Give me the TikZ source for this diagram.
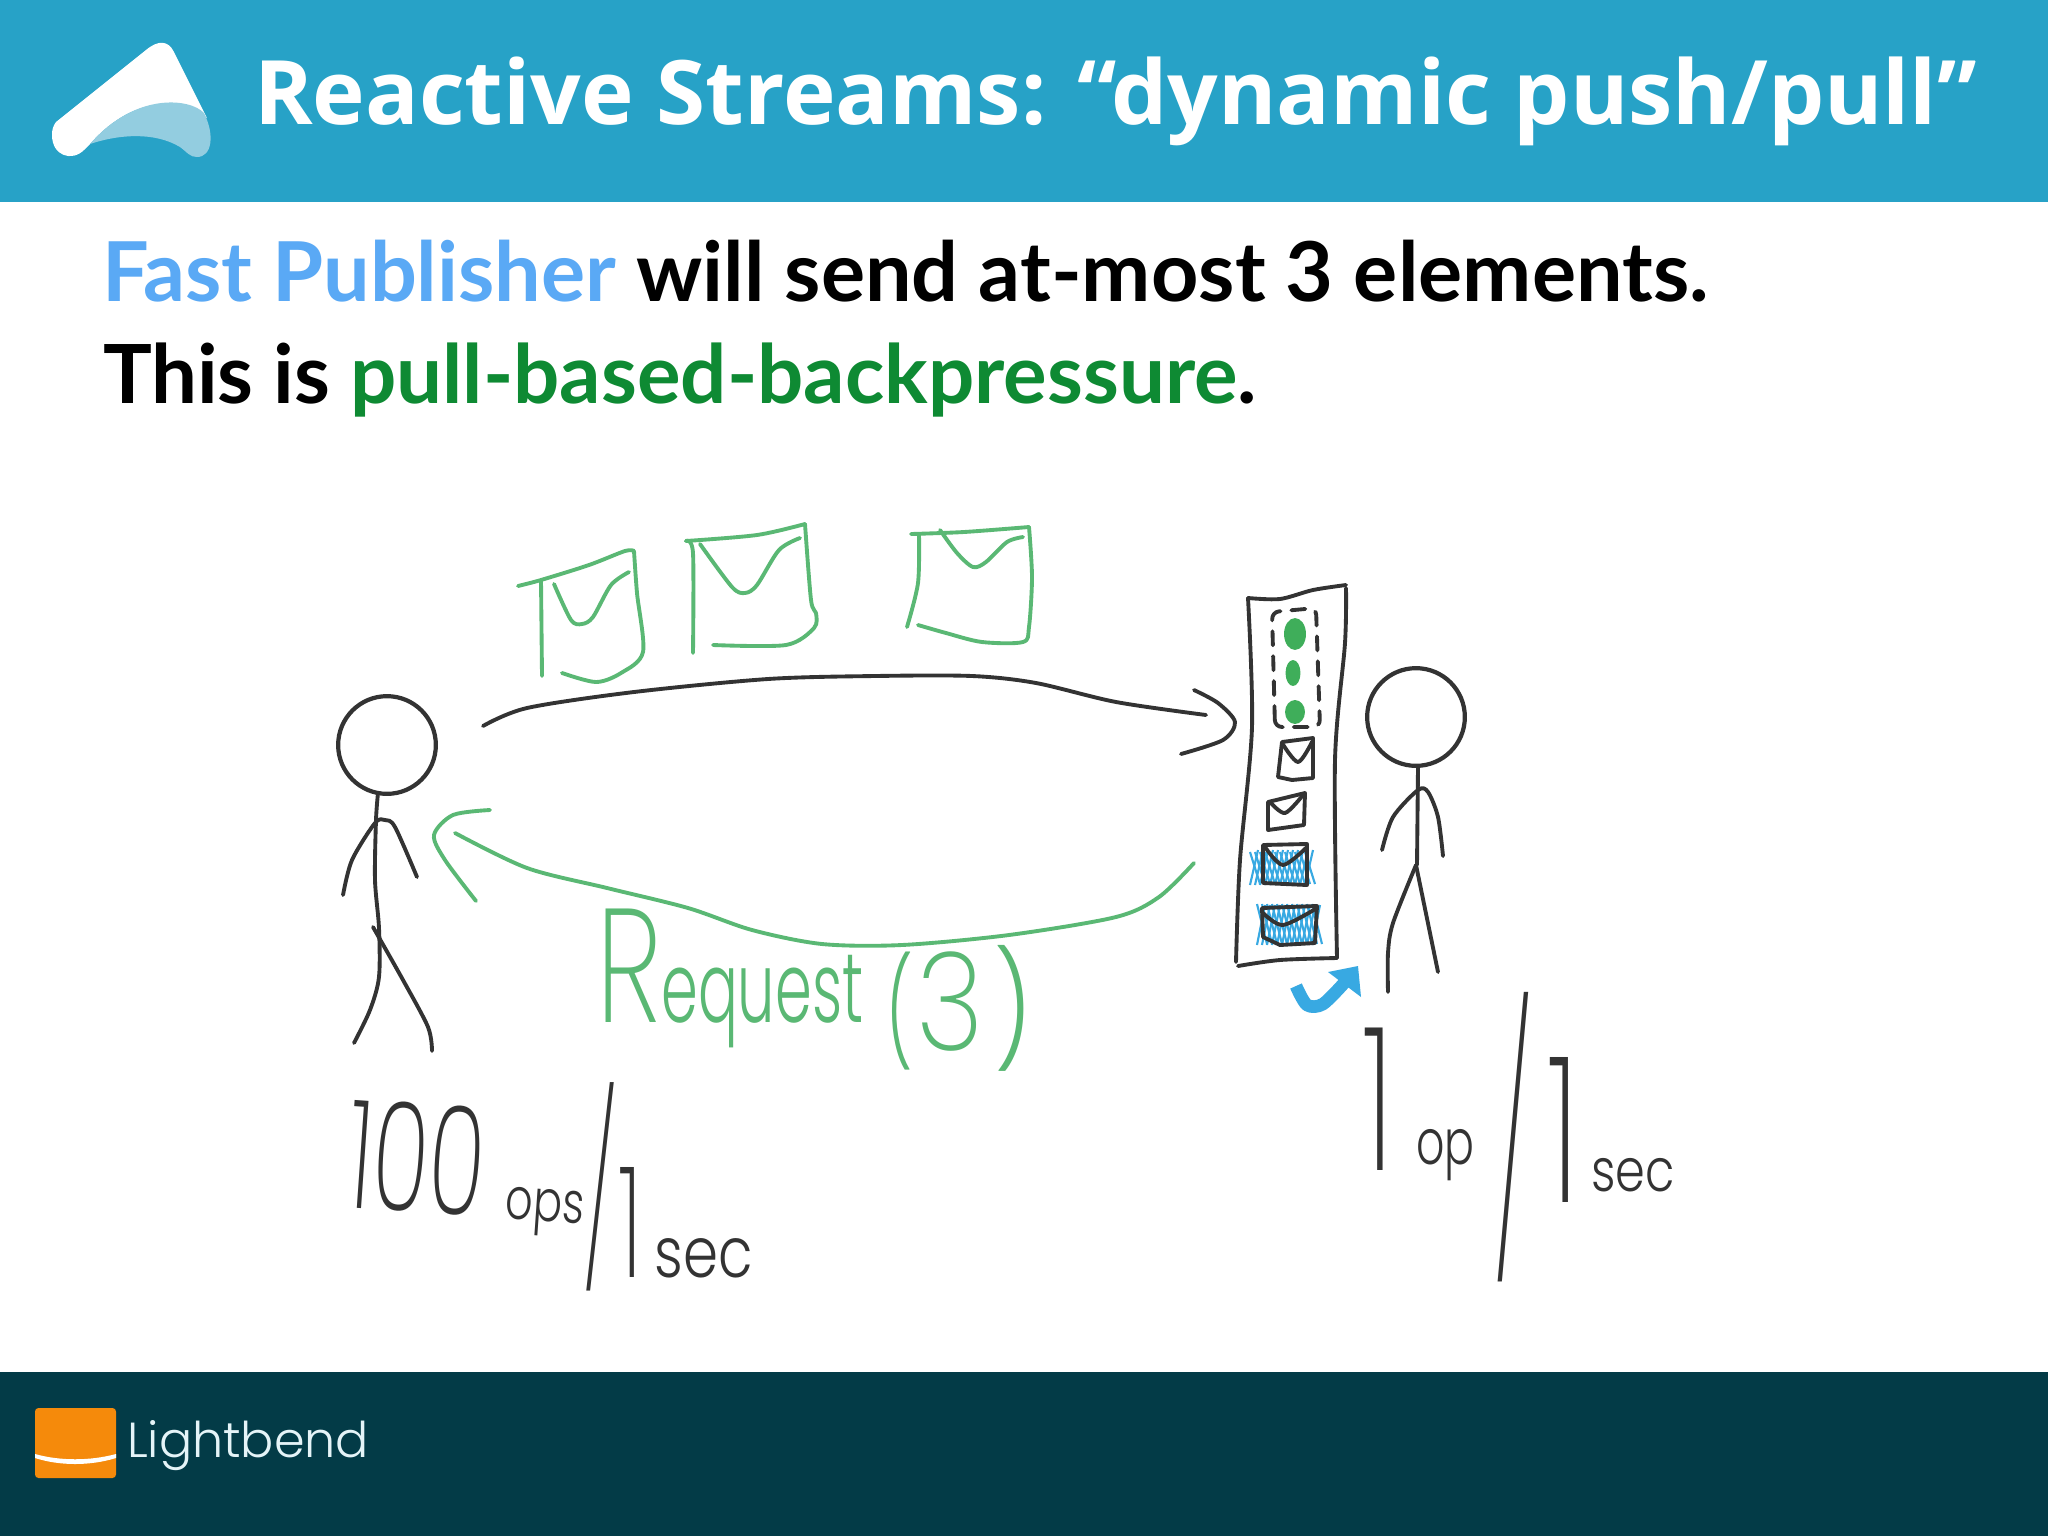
\documentclass[tikz,border=0pt]{standalone}
\usepackage{fontspec}
\usepackage{graphicx}
\usetikzlibrary{shapes.geometric}
\setmainfont{Lato}
\newfontfamily\titlefont{Open Sans}
\newfontfamily\handfont[UprightFont=* Light]{Poppins}
\newfontfamily\handthin[UprightFont=* ExtraLight]{Poppins}
\definecolor{headerblue}{HTML}{27A2C7}
\definecolor{footerteal}{HTML}{033B47}
\definecolor{logopale}{HTML}{93CDE0}
\definecolor{logoorange}{HTML}{F58A0B}
\definecolor{fastblue}{HTML}{5AA9F5}
\definecolor{pullgreen}{HTML}{0E8A33}
\definecolor{penblack}{HTML}{333333}
\definecolor{pengreen}{HTML}{5AB874}
\definecolor{blobgreen}{HTML}{3FAE5A}
\definecolor{penblue}{HTML}{38A9E2}
\newcommand{\hw}[3]{\scalebox{#1}[1]{\fontsize{#2}{#2}\selectfont #3}}
\tikzset{>=latex}

\begin{document}
\begin{tikzpicture}[
    x=0.01cm, y=-0.01cm,
    every node/.style={inner sep=0pt, outer sep=0pt},
    sketch/.style={draw=penblack, line width=1.1pt, line cap=round, line join=round},
    greenpen/.style={draw=pengreen, line width=1.1pt, line cap=round, line join=round},
    hatch/.style={draw=penblue, line width=0.6pt},
    headcircle/.style={circle, draw=penblack, line width=1.2pt},
    blob/.style={ellipse, fill=blobgreen},
    slide/.style={anchor=base west, font=\bfseries\fontsize{23.5pt}{27pt}\selectfont},
    handblack/.style={anchor=base west, text=penblack, font=\handfont\fontsize{24pt}{24pt}\selectfont},
    handgreen/.style={handblack, text=pengreen}
]
    \useasboundingbox (0,0) rectangle (2048,1536);
    \fill[white] (0,0) rectangle (2048,1536);

    % Header and footer
    \fill[headerblue] (0,0) rectangle (2048,202);
    \fill[footerteal] (0,1372) rectangle (2048,1536);
    \fill[white] (56,122) -- (146,50) .. controls (158,40) and (168,40) .. (174,52) -- (207,118)
        .. controls (190,98) and (135,92) .. (90,144) -- (84,150)
        .. controls (72,162) and (52,156) .. (52,135) .. controls (52,130) and (53,126) .. (56,122) -- cycle;
    \fill[logopale] (90,144) .. controls (135,92) and (190,98) .. (204,113)
        .. controls (215,135) and (212,157) .. (197,157) .. controls (190,157) and (188,153) .. (180,147)
        .. controls (155,132) and (120,134) .. (90,144) -- cycle;
    \node[anchor=base west, text=white, font=\titlefont\bfseries\fontsize{25.3pt}{30pt}\selectfont] (title) at (254,124)
        {Reactive Streams: “dynamic push/pull”};

    \fill[logoorange, rounded corners=1pt] (35,1408) rectangle (116,1478);
    \fill[white] (35,1454) .. controls (60,1461) and (90,1461) .. (116,1454) -- (116,1458)
        .. controls (90,1466) and (60,1466) .. (35,1458) -- cycle;
    \node[anchor=base west, text=white!88!headerblue, font=\handfont\fontsize{14pt}{16pt}\selectfont] (brand) at (127,1457) {Lightbend};

    % Slide text
    \node[slide] (line1) at (102,301) {\textcolor{fastblue}{Fast Publisher} will send at-most 3 elements.};
    \node[slide, font=\bfseries\fontsize{23.2pt}{27pt}\selectfont] (line2) at (103,403) {This is \textcolor{pullgreen}{pull-based-backpressure}.};

    % Publisher
    \node[headcircle, minimum size=98pt*0.2835] (pubHead) at (387,745) {};
    \draw[sketch] plot[smooth] coordinates {(378,793) (376,820) (375,880) (379,928) (379,977) (370,1010) (354,1043)};
    \draw[sketch] plot[smooth] coordinates {(343,895) (352,860) (375,823) (385,820) (395,827) (417,877)};
    \draw[sketch] plot[smooth] coordinates {(373,927) (403,980) (428,1027) (432,1051)};

    % Subscriber
    \node[headcircle, minimum size=98pt*0.2835] (subHead) at (1416,717) {};
    \draw[sketch] (1418,767) -- (1417,865);
    \draw[sketch] plot[smooth] coordinates {(1382,850) (1393,817) (1418,790) (1428,792) (1438,817) (1443,856)};
    \draw[sketch] (1416,865) -- (1438,972);
    \draw[sketch] plot[smooth] coordinates {(1416,865) (1393,923) (1388,953) (1388,992)};

    % Buffer
    \draw[sketch] plot[smooth] coordinates {(1248,598) (1280,599) (1313,590) (1346,585)};
    \draw[sketch] plot[smooth] coordinates {(1346,588) (1345,643) (1335,760) (1337,958)};
    \draw[sketch] plot[smooth] coordinates {(1337,958) (1280,960) (1238,966)};
    \draw[sketch] plot[smooth] coordinates {(1248,598) (1252,727) (1240,860) (1236,962)};
    \draw[sketch, dashed, dash pattern=on 14pt*0.2835 off 11pt*0.2835, rounded corners=2pt]
        (1275,727) -- (1272,612) -- (1316,608) -- (1320,727) -- cycle;
    \node[blob, minimum width=22pt*0.2835, minimum height=32pt*0.2835] (blobA) at (1295,634) {};
    \node[blob, minimum width=15pt*0.2835, minimum height=26pt*0.2835] (blobB) at (1293,673) {};
    \node[blob, minimum width=20pt*0.2835, minimum height=24pt*0.2835] (blobC) at (1295,712) {};

    \draw[sketch] (1282,742) -- (1313,738) -- (1313,778) -- (1292,780) -- (1278,777) -- (1282,742);
    \draw[sketch] plot[smooth] coordinates {(1282,743) (1298,762) (1312,742)};
    \draw[sketch] (1268,802) -- (1305,793) -- (1304,825) -- (1268,830) -- cycle;
    \draw[sketch] plot[smooth] coordinates {(1270,802) (1285,813) (1303,795)};

    \foreach \hx in {1250,1255,...,1305} {
        \draw[hatch] (\hx,852) -- (\hx+10,884);
        \draw[hatch] (\hx+8,850) -- (\hx,885);
    }
    \foreach \hx in {1257,1262,...,1315} {
        \draw[hatch] (\hx,904) -- (\hx+10,944);
        \draw[hatch] (\hx+8,905) -- (\hx,945);
    }
    \draw[sketch] (1263,845) -- (1307,844) -- (1307,885) -- (1263,883) -- cycle;
    \draw[sketch] plot[smooth] coordinates {(1265,847) (1283,865) (1307,847)};
    \draw[sketch] (1262,908) -- (1317,906) -- (1315,943) -- (1280,945) -- (1263,937) -- (1262,908);
    \draw[sketch] plot[smooth] coordinates {(1263,913) (1283,925) (1317,908)};

    % Envelopes in flight
    \draw[greenpen] plot[smooth] coordinates {(518,586) (541,580) (589,565) (625,551) (634,551)};
    \draw[greenpen] plot[smooth] coordinates {(634,551) (637,593) (643,652) (621,673) (596,682) (562,673)};
    \draw[greenpen] (541,580) -- (542,676);
    \draw[greenpen] plot[smooth] coordinates {(554,584) (571,620) (582,624) (593,617) (611,585) (629,572)};

    \draw[greenpen] plot[smooth] coordinates {(686,541) (693,553) (693,653)};
    \draw[greenpen] plot[smooth] coordinates {(686,541) (757,535) (805,524)};
    \draw[greenpen] plot[smooth] coordinates {(805,524) (811,600) (816,613) (814,628) (786,645) (713,645)};
    \draw[greenpen] plot[smooth] coordinates {(700,544) (732,587) (745,593) (757,585) (779,550) (800,538)};

    \draw[greenpen] plot[smooth] coordinates {(911,534) (964,532) (1029,527)};
    \draw[greenpen] plot[smooth] coordinates {(1029,527) (1032,577) (1029,627) (1023,642) (982,642) (946,633) (918,625)};
    \draw[greenpen] plot[smooth] coordinates {(919,534) (918,583) (907,627)};
    \draw[greenpen] plot[smooth] coordinates {(940,530) (957,553) (973,567) (986,562) (1007,542) (1023,537)};

    % Arrows
    \coordinate (sendStart) at (483,726);
    \coordinate (sendEnd) at (1206,715);
    \coordinate (requestStart) at (1194,863);
    \coordinate (requestEnd) at (455,833);
    \draw[sketch] plot[smooth] coordinates {(sendStart) (527,708) (634,692) (768,679) (875,676) (972,676) (1036,683) (1116,702) (sendEnd)};
    \draw[sketch] plot[smooth] coordinates {(1194,690) (1218,703) (1235,722) (1223,740) (1181,754)};
    \draw[greenpen] plot[smooth] coordinates {(requestStart) (1159,897) (1116,917) (1009,935) (902,945) (822,944) (752,930) (688,908) (607,888) (527,868) (requestEnd)};
    \draw[greenpen] plot[smooth] coordinates {(490,810) (453,815) (434,835) (445,860) (476,901)};

    % Swap arrow
    \draw[penblue, line width=3.6pt, line join=round] plot[smooth] coordinates {(1296,986) (1307,1005) (1323,1004) (1345,982)};
    \fill[penblue] (1328,972) -- (1358,966) -- (1361,997) -- cycle;

    % Handwriting
    \node[handgreen] (request) at (596,1022) {{\handthin\hw{0.72}{46pt}{R}}\hw{0.6}{28pt}{equest} \raisebox{-8pt}{\hw{0.6}{30pt}{(}\hspace{1pt}{\handthin\hw{0.85}{39pt}{3}}\hspace{3pt}\hw{0.8}{32pt}{)}}};
    \node[handblack, rotate=-4] (pubRate) at (345,1207) {{\handthin\hw{0.62}{43pt}{100}} \hw{0.74}{16.5pt}{ops}};
    \node[handblack, anchor=center] (pubSlash) at (601,1187) {{\handthin\hw{0.45}{54pt}{/}}};
    \node[handblack] (pubUnit) at (618,1277) {{\handthin\hw{0.6}{44pt}{1}}\hspace{-3pt} \hw{0.8}{20pt}{sec}};
    \node[handblack] (subRate) at (1362,1170) {{\handthin\hw{0.6}{57pt}{1}} \raisebox{1.7pt}{\hw{0.7}{18pt}{op}}};
    \node[handblack, anchor=center] (subSlash) at (1513,1137) {{\handthin\hw{0.36}{75pt}{/}}};
    \node[handblack] (subUnit) at (1547,1202) {{\handthin\hw{0.6}{58pt}{1}}\hspace{-3pt} \raisebox{2.9pt}{\hw{0.8}{17pt}{sec}}};
\end{tikzpicture}
\end{document}
